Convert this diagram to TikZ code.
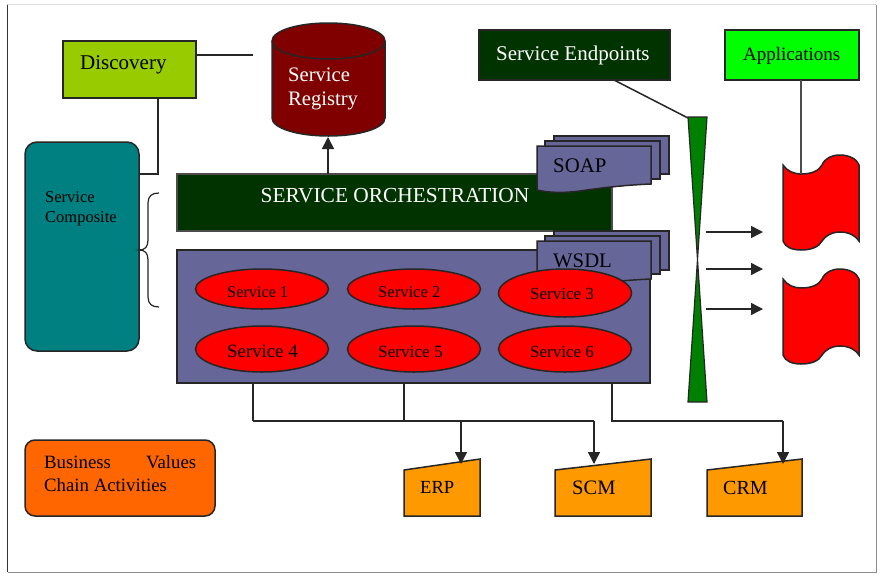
\documentclass[tikz,border=0pt]{standalone}
\usepackage{fontspec}
\setmainfont{Liberation Serif}
\usetikzlibrary{arrows.meta,calc,shapes.geometric}
\newcommand{\fsz}[1]{\fontsize{#1}{#1}\selectfont}
\definecolor{darkgreen}{HTML}{003300}
\definecolor{slateblue}{HTML}{666699}
\definecolor{maroonred}{HTML}{800000}
\definecolor{limeg}{HTML}{99CC00}
\definecolor{tealc}{HTML}{008080}
\definecolor{orangeb}{HTML}{FF6600}
\definecolor{orangec}{HTML}{FF9900}
\definecolor{greenb}{HTML}{008000}
\definecolor{brightg}{HTML}{00FF00}
\tikzset{
  x=1pt,y=-1pt,
  outline/.style={draw=black!85,line width=1.5pt},
  conn/.style={draw=black!85,line width=1.5pt},
  tipped/.style={conn,-{Triangle[length=12pt,width=12pt]}},
  boxnode/.style={outline,rectangle,inner sep=0pt,outer sep=0pt,anchor=north west},
  lbl/.style={inner sep=0pt,anchor=base west},
  svc/.style={outline,ellipse,fill=red,inner sep=0pt,outer sep=0pt,minimum width=133pt},
  frameline/.style={draw=black!45,line width=1pt},
  wave/.style={outline,fill=slateblue},
}
\newcommand{\svcshape}[5]{% x1 x2 top bottom-right bottom-left
  \draw[wave] (#1,#3) -- (#2,#3) -- (#2,#4)
    .. controls ($(#2,#4)+(-26,1)$) and ($(#1,#5)+(63,-2)$) .. ($(#1,#5)+(43,1)$)
    .. controls ($(#1,#5)+(28,3)$) and ($(#1,#5)+(13,3)$) .. (#1,#5) -- cycle;
}
\newcommand{\flagshape}[1]{% y offset
  \draw[outline,fill=red] (783,165+#1)
    .. controls (787,171+#1) and (794,174+#1) .. (801,174+#1)
    .. controls (811,174+#1) and (819,171+#1) .. (822,165+#1)
    .. controls (825,158+#1) and (832,155+#1) .. (840,155+#1)
    .. controls (849,155+#1) and (857,159+#1) .. (859,165+#1)
    -- (859,241+#1)
    .. controls (856,236+#1) and (849,232+#1) .. (840,232+#1)
    .. controls (832,232+#1) and (825,236+#1) .. (822,241+#1)
    .. controls (819,247+#1) and (811,250+#1) .. (801,250+#1)
    .. controls (792,250+#1) and (785,247+#1) .. (783,241+#1) -- cycle;
}
\begin{document}
\begin{tikzpicture}
\useasboundingbox (0,0) rectangle (884,579);
\fill[white] (0,0) rectangle (884,579);
% page frame
\draw[draw=black!15,line width=1pt] (7,4.5) -- (876,4.5);
\draw[draw=black!80,line width=1pt] (7.5,4.5) -- (7.5,572);
\draw[frameline] (876,4.5) -- (876,572) -- (7.5,572);

\coordinate (discRight) at (253,55);
\coordinate (discDown) at (158,174);
\coordinate (appDown) at (801,174);
\coordinate (epStart) at (614,80);
\coordinate (epEnd) at (688,118);
\coordinate (regIn) at (328,137);
\coordinate (tapA) at (253,421);
\coordinate (tapB) at (404,421);
\coordinate (tapC) at (612,421);

% boxes
\node[boxnode,fill=limeg,minimum width=133pt,minimum height=57pt] (disc) at (63,41) {};
\node[lbl] (discText) at (80,69.5) {\fsz{21}Discovery};
\node[boxnode,fill=tealc,rounded corners=12pt,minimum width=114pt,minimum height=209pt] (comp) at (25,142) {};
\node[lbl] (compA) at (45,202) {\fsz{16.5}Service};
\node[lbl] (compB) at (45,222) {\fsz{16.5}Composite};
\draw[conn] (disc.east |- discRight) -- (discRight);
\draw[conn] (disc.south -| discDown) -- (discDown) -- (comp.east |- discDown);

% registry cylinder
\draw[outline,fill=maroonred] (272,41) -- (272,118)
  .. controls (272,128) and (297,136) .. (328.5,136)
  .. controls (360,136) and (385,128) .. (385,118) -- (385,41)
  .. controls (385,31) and (360,23) .. (328.5,23)
  .. controls (297,23) and (272,31) .. (272,41) -- cycle;
\draw[outline] (272,41) .. controls (272,51) and (297,59) .. (328.5,59)
  .. controls (360,59) and (385,51) .. (385,41);
\node[lbl,text=white] (regA) at (288,81) {\fsz{20.6}Service};
\node[lbl,text=white] (regB) at (288,105) {\fsz{20.6}Registry};

% orchestration
\node[boxnode,fill=darkgreen,draw=black!70,minimum width=435pt,minimum height=57pt] (orch) at (177,174) {};
\node[text=white,inner sep=0pt,anchor=base] (orchText) at (395,202.5) {\fsz{21.4}SERVICE ORCHESTRATION};
\draw[tipped] (orch.north -| regIn) -- (regIn);

% SOAP stack
\draw[wave] (554,136) rectangle (669,174);
\draw[wave] (545,141) rectangle (660,179);
\svcshape{537}{651}{146}{184}{190}
\node[lbl] (soap) at (553,172) {\fsz{20.8}SOAP};

% service panel
\node[boxnode,fill=slateblue,minimum width=473pt,minimum height=133pt] (panel) at (177,250) {};

% WSDL stack
\draw[wave] (554,231) rectangle (669,270);
\draw[wave] (545,236) rectangle (660,274);
\svcshape{537}{651}{241}{279}{285}
\node[lbl] (wsdl) at (553,267) {\fsz{20.7}WSDL};

% services
\node[svc,minimum height=40pt] (s1) at (262,289) {};
\node[svc,minimum height=40pt] (s2) at (414,289) {};
\node[svc,minimum height=48pt] (s3) at (565,293) {};
\node[svc,minimum height=46pt] (s4) at (262,349) {};
\node[svc,minimum height=46pt] (s5) at (414,349) {};
\node[svc,minimum height=46pt] (s6) at (565,349) {};
\node[lbl] (s1t) at (227,297) {\fsz{16.3}Service 1};
\node[lbl] (s2t) at (378,297) {\fsz{16.6}Service 2};
\node[lbl] (s3t) at (530,299) {\fsz{17}Service 3};
\node[lbl] (s4t) at (227,357) {\fsz{18.8}Service 4};
\node[lbl] (s5t) at (378,357) {\fsz{17.2}Service 5};
\node[lbl] (s6t) at (530,357) {\fsz{17}Service 6};

% brace
\draw[conn,line width=1.2pt] (159,193) .. controls (152,193) and (148,196) .. (148,203) -- (148,240)
  .. controls (148,247) and (145,250) .. (139,250)
  .. controls (145,250) and (148,253) .. (148,260) -- (148,297)
  .. controls (148,304) and (152,307) .. (159,307);

% endpoints
\node[boxnode,fill=darkgreen,minimum width=191pt,minimum height=50pt] (endp) at (479,30) {};
\node[lbl,text=white] (endpText) at (496,60) {\fsz{21}Service Endpoints};
\node[boxnode,fill=brightg,minimum width=134pt,minimum height=50pt] (apps) at (725,30) {};
\node[lbl] (appsText) at (743,60) {\fsz{19}Applications};

% bow tie
\draw[outline,fill=greenb,line width=1.2pt] (688,117) -- (707,117) -- (688,402) -- (707,402) -- cycle;
\draw[conn] (endp.south -| epStart) -- (epEnd);

% flags
\flagshape{0}
\flagshape{114}
\draw[conn,draw=black!70] (apps.south -| appDown) -- (appDown);
\coordinate (flagA) at (763,232);
\coordinate (flagB) at (763,269);
\coordinate (flagC) at (763,309);
\coordinate (bowA) at (706,232);
\coordinate (bowB) at (706,269);
\coordinate (bowC) at (706,309);
\draw[tipped] (bowA) -- (flagA);
\draw[tipped] (bowB) -- (flagB);
\draw[tipped] (bowC) -- (flagC);

% business
\node[boxnode,fill=orangeb,rounded corners=10pt,minimum width=190pt,minimum height=76pt] (biz) at (25,440) {};
\node[lbl] (bizA) at (44,468) {\fsz{18.8}\makebox[152pt][s]{Business Values}};
\node[lbl] (bizB) at (44,491) {\fsz{18.8}Chain Activities};

% trapezoids
\draw[outline,fill=orangec] (404,470) -- (480,459) -- (480,516) -- (404,516) -- cycle;
\draw[outline,fill=orangec] (555,470) -- (651,459) -- (651,516) -- (555,516) -- cycle;
\draw[outline,fill=orangec] (707,470) -- (802,459) -- (802,516) -- (707,516) -- cycle;
\node[lbl] (erp) at (420,493) {\fsz{18.5}ERP};
\node[lbl] (scm) at (572,494) {\fsz{20.5}SCM};
\node[lbl] (crm) at (723,494) {\fsz{20}CRM};

% bottom connectors
\coordinate (erpIn) at (461,464);
\coordinate (scmIn) at (594,464);
\coordinate (crmIn) at (783,464);
\draw[conn] (panel.south -| tapA) -- (tapA);
\draw[conn] (panel.south -| tapB) -- (tapB);
\draw[conn] (tapA) -- (tapA -| scmIn);
\draw[tipped] (tapA -| scmIn) -- (scmIn);
\draw[tipped] (tapB -| erpIn) -- (erpIn);
\draw[conn] (panel.south -| tapC) -- (tapC) -- (tapC -| crmIn);
\draw[tipped] (tapC -| crmIn) -- (crmIn);
\end{tikzpicture}
\end{document}
